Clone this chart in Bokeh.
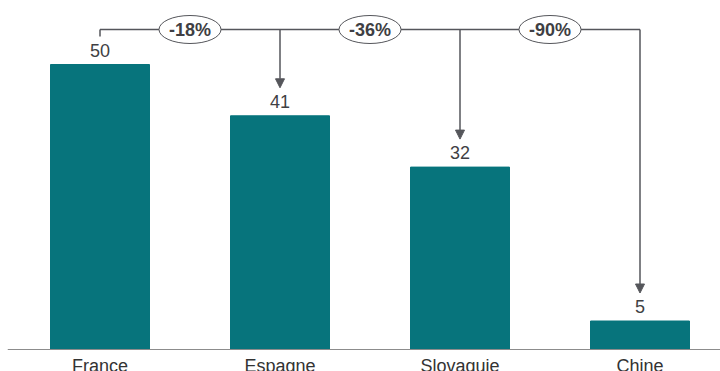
from bokeh.plotting import figure
from bokeh.models import Span, Arrow, NormalHead, Range1d
from bokeh.core.properties import value
from bokeh.embed import file_html
from bokeh.resources import INLINE

categories = ["France", "Espagne", "Slovaquie", "Chine"]
values = [50, 41, 32, 5]
change_labels = ["-18%", "-36%", "-90%"]

BAR = "#07747C"
LINE = "#55565B"
TEXT = "#3F3F44"
FONT = value("Liberation Sans")

PX = 5.7          # pixels per unit
STEP = 180.0      # pixels per category
FRAME_LEFT = 7
x = list(range(len(categories)))

x0 = -(99.5 - FRAME_LEFT) / STEP
p = figure(width=720, height=371, output_backend="svg", toolbar_location=None,
           x_axis_location=None, y_axis_location=None,
           min_border_left=FRAME_LEFT, min_border_right=0, min_border_top=0, min_border_bottom=0,
           x_range=Range1d(x0, x0 + (720 - FRAME_LEFT) / STEP),
           y_range=Range1d(-22 / PX, 349 / PX))
p.grid.visible = False
p.outline_line_color = None
p.background_fill_color = "white"
p.border_fill_color = "white"

p.vbar(x=x, top=values, bottom=0, width=99 / STEP, color=BAR)
p.add_layout(Span(location=0, dimension="width", line_color="#8C8C8C", line_width=1))

p.text(x=x, y=values, text=[str(v) for v in values], text_align="center",
       text_baseline="bottom", y_offset=-8, text_font=FONT,
       text_font_size="18px", text_color=TEXT)
p.text(x=x, y=[0] * len(x), text=categories, text_align="center",
       text_baseline="top", y_offset=6, text_font=FONT,
       text_font_size="18px", text_color="#333333")

top_y = 320 / PX
p.line(x=[x[0], x[-1]], y=[top_y, top_y], line_color=LINE, line_width=1.5)
p.segment(x0=[x[0]], y0=[top_y], x1=[x[0]], y1=[top_y - 7 / PX], line_color=LINE, line_width=1.5)
for i in x[1:]:
    p.add_layout(Arrow(x_start=i, y_start=top_y, x_end=i, y_end=values[i] + 28 / PX,
                       line_color=LINE, line_width=1.5,
                       end=NormalHead(size=9, fill_color=LINE, line_color=LINE, line_width=1)))

mid = [i + 0.5 for i in x[:-1]]
p.ellipse(x=mid, y=[top_y] * len(mid), width=62, height=28, width_units="screen",
          height_units="screen", fill_color="white", line_color=LINE, line_width=1)
p.text(x=mid, y=[top_y] * len(mid), text=change_labels, text_align="center",
       text_baseline="middle", text_font=FONT, text_font_size="18px",
       text_font_style="bold", text_color=TEXT)

open("out.html", "w").write(file_html(p, INLINE))
